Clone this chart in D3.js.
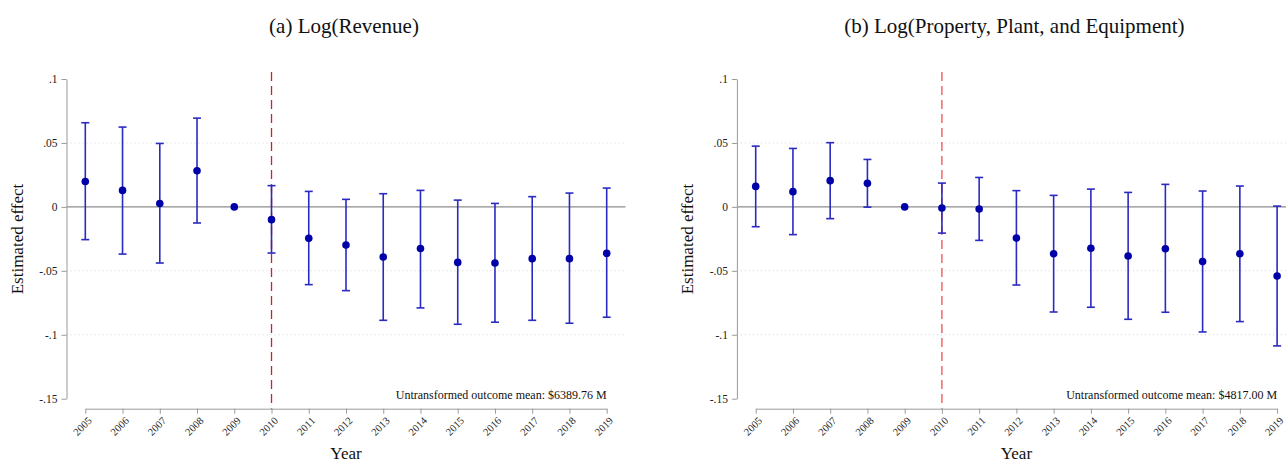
<!DOCTYPE html>
<html>
<head>
<meta charset="utf-8">
<script src="https://cdn.jsdelivr.net/npm/d3@7"></script>
<style>
  body { margin: 0; background: #fff; }
  svg { display: block; font-family: "Liberation Serif", "DejaVu Serif", serif; }
  .grid { stroke: #d0d0d0; stroke-width: 1; stroke-dasharray: 1,3; }
  .zero { stroke: #8c8c8c; stroke-width: 1.3; }
  .axis path, .axis line { stroke: #9a9a9a; }
  .axis text { fill: #222; font-family: "Liberation Serif", serif; }
</style>
</head>
<body>
<svg width="1286" height="462"></svg>
<script>
let svgWidth = 1286;
let svgHeight = 462;

let years = [2005, 2006, 2007, 2008, 2009, 2010, 2011, 2012, 2013, 2014, 2015, 2016, 2017, 2018, 2019];
let yTicks = [-0.15, -0.1, -0.05, 0, 0.05, 0.1];
let yTickLabels = ["-.15", "-.1", "-.05", "0", ".05", ".1"];
let gridValues = [-0.1, -0.05, 0.05];

// panel (a) revenue
let revCoef  = [0.0199, 0.0129, 0.0027, 0.0283, 0, -0.0100, -0.0246, -0.0298, -0.0392, -0.0326, -0.0434, -0.0439, -0.0405, -0.0405, -0.0363];
let revUpper = [0.0658, 0.0624, 0.0496, 0.0694, 0, 0.0166, 0.0121, 0.0059, 0.0103, 0.0129, 0.0053, 0.0027, 0.0080, 0.0108, 0.0147];
let revLower = [-0.0256, -0.0369, -0.0439, -0.0126, 0, -0.0361, -0.0608, -0.0655, -0.0887, -0.0790, -0.0918, -0.0902, -0.0887, -0.0910, -0.0863];

// panel (b) PP&E
let ppeCoef  = [0.0160, 0.0119, 0.0205, 0.0184, 0, -0.0009, -0.0017, -0.0244, -0.0366, -0.0324, -0.0384, -0.0327, -0.0428, -0.0366, -0.0541];
let ppeUpper = [0.0475, 0.0457, 0.0502, 0.0371, 0, 0.0186, 0.0230, 0.0127, 0.0090, 0.0139, 0.0113, 0.0176, 0.0124, 0.0163, 0.0006];
let ppeLower = [-0.0155, -0.0217, -0.0092, -0.0002, 0, -0.0205, -0.0262, -0.0611, -0.0822, -0.0785, -0.0879, -0.0824, -0.0978, -0.0897, -0.1087];

let titles = ["(a) Log(Revenue)", "(b) Log(Property, Plant, and Equipment)"];
let notes = ["Untransformed outcome mean: $6389.76 M", "Untransformed outcome mean: $4817.00 M"];
let eventYear = 2010;

let svg = d3.select("svg");

function draw_panel(offset, coef, upper, lower, title, note, redColor) {
    let axisX = 66.5 + offset;
    let xScale = d3.scaleLinear().domain([2005, 2019]).range([85.3 + offset, 606.7 + offset]);
    let yScale = d3.scaleLinear().domain([-0.15, 0.1]).range([398.7, 79]);
    let g = svg.append("g");

    // title
    g.append("text")
        .attr("x", (xScale(2005) + xScale(2019)) / 2 - 2)
        .attr("y", 33)
        .attr("text-anchor", "middle")
        .attr("font-size", 21)
        .attr("fill", "#111")
        .text(title);

    // grid lines
    g.selectAll(".grid").data(gridValues).enter().append("line")
        .attr("class", "grid")
        .attr("x1", axisX).attr("x2", axisX + 559)
        .attr("y1", d => yScale(d)).attr("y2", d => yScale(d));

    // event line
    g.append("line")
        .attr("x1", xScale(eventYear)).attr("x2", xScale(eventYear))
        .attr("y1", 72).attr("y2", 408.7)
        .attr("stroke", redColor)
        .attr("stroke-width", 1.3)
        .attr("stroke-dasharray", "9,5");

    // zero line
    g.append("line")
        .attr("class", "zero")
        .attr("x1", axisX).attr("x2", axisX + 559)
        .attr("y1", yScale(0)).attr("y2", yScale(0));

    // y axis
    let yAxis = d3.axisLeft(yScale).tickValues(yTicks)
        .tickFormat((d, i) => yTickLabels[i])
        .tickSizeInner(5).tickSizeOuter(0).tickPadding(4);
    let ya = g.append("g").attr("class", "axis")
        .attr("transform", "translate(" + axisX + ",0)")
        .call(yAxis);
    ya.selectAll("text").attr("font-size", 11.5);

    // x axis
    let xAxis = d3.axisBottom(xScale).tickValues(years)
        .tickFormat(d3.format("d"))
        .tickSizeInner(5).tickSizeOuter(0).tickPadding(3);
    let xa = g.append("g").attr("class", "axis")
        .attr("transform", "translate(0,408.7)")
        .call(xAxis);
    xa.selectAll("text")
        .attr("font-size", 10.5)
        .attr("text-anchor", "end")
        .attr("x", 0).attr("y", 0)
        .attr("dy", "0.35em")
        .attr("transform", "translate(4,10) rotate(-45)");

    // axis titles
    g.append("text")
        .attr("transform", "translate(" + (offset + 23) + ",239) rotate(-90)")
        .attr("text-anchor", "middle")
        .attr("font-size", 17)
        .attr("fill", "#111")
        .text("Estimated effect");
    g.append("text")
        .attr("x", (xScale(2005) + xScale(2019)) / 2)
        .attr("y", 459)
        .attr("text-anchor", "middle")
        .attr("font-size", 17)
        .attr("fill", "#111")
        .text("Year");

    // note
    g.append("text")
        .attr("x", xScale(2019))
        .attr("y", 399)
        .attr("text-anchor", "end")
        .attr("font-size", 12)
        .attr("fill", "#111")
        .text(note);

    // error bars
    let rows = years.map((y, i) => ({year: y, c: coef[i], lo: lower[i], hi: upper[i]}));
    let bars = rows.filter(d => d.year !== 2009);
    let eb = g.append("g").attr("stroke", "#2a2ac0").attr("stroke-width", 1.6);
    eb.selectAll(".v").data(bars).enter().append("line")
        .attr("x1", d => xScale(d.year)).attr("x2", d => xScale(d.year))
        .attr("y1", d => yScale(d.hi)).attr("y2", d => yScale(d.lo));
    eb.selectAll(".hi").data(bars).enter().append("line")
        .attr("x1", d => xScale(d.year) - 4).attr("x2", d => xScale(d.year) + 4)
        .attr("y1", d => yScale(d.hi)).attr("y2", d => yScale(d.hi));
    eb.selectAll(".lo").data(bars).enter().append("line")
        .attr("x1", d => xScale(d.year) - 4).attr("x2", d => xScale(d.year) + 4)
        .attr("y1", d => yScale(d.lo)).attr("y2", d => yScale(d.lo));

    // points
    g.selectAll(".pt").data(rows).enter().append("circle")
        .attr("cx", d => xScale(d.year))
        .attr("cy", d => yScale(d.c))
        .attr("r", 3.8)
        .attr("fill", "#0000a8");
}

draw_panel(0, revCoef, revUpper, revLower, titles[0], notes[0], "#d42020");
draw_panel(670.4, ppeCoef, ppeUpper, ppeLower, titles[1], notes[1], "#ec5050");
</script>
</body>
</html>
